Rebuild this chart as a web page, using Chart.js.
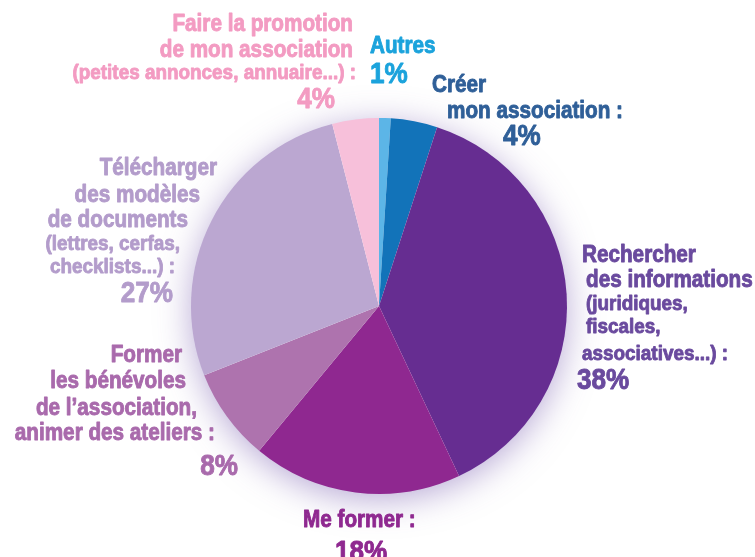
<!DOCTYPE html>
<html>
<head>
<meta charset="utf-8">
<script src="https://cdn.jsdelivr.net/npm/chart.js@4"></script>
<style>
  html, body { margin: 0; padding: 0; background: #fff; }
  #wrap { width: 755px; height: 557px; }
</style>
</head>
<body>
<div id="wrap"><canvas id="myChart" width="755" height="557"></canvas></div>
<script>
// data (percent of answers)
const categories = ['Autres', 'Créer mon association', 'Rechercher des informations', 'Me former',
  'Former les bénévoles', 'Télécharger des modèles', 'Faire la promotion'];
const shares = [1, 4, 38, 18, 8, 27, 4];
const sliceColors = ['#5cb5e7', '#1273b9', '#662d91', '#8f2890', '#ae73ae', '#bba7d1', '#f7c0da'];
const textColors = ['#1ba3dc', '#2f5f98', '#6a4a9e', '#8f2990', '#a96aac', '#b39ccb', '#f39bc2'];

// label text, one list of lines per slice (last line is the percentage)
const labelLines = [
  ['Autres', '1%'],
  ['Créer', 'mon association :', '4%'],
  ['Rechercher', 'des informations', '(juridiques,', 'fiscales,', 'associatives...) :', '38%'],
  ['Me former :', '18%'],
  ['Former', 'les bénévoles', 'de l’association,', 'animer des ateliers :', '8%'],
  ['Télécharger', 'des modèles', 'de documents', '(lettres, cerfas,', 'checklists...) :', '27%'],
  ['Faire la promotion', 'de mon association', '(petites annonces, annuaire...) :', '4%']
];

// where each line goes: [x, baseline, align, size]
const labelPlace = [
  [[370, 53, 'left', 23], [370, 83, 'left', 29]],
  [[432, 92, 'left', 23], [447, 118, 'left', 23], [503, 145, 'left', 29]],
  [[582, 262, 'left', 23], [586, 287, 'left', 23], [586, 310, 'left', 21], [586, 333, 'left', 21], [582, 360, 'left', 21], [577, 389, 'left', 29]],
  [[303, 527, 'left', 23], [335, 561, 'left', 29]],
  [[182, 362, 'right', 23], [186, 388, 'right', 23], [197, 415, 'right', 23], [215, 440, 'right', 23], [238, 475, 'right', 29]],
  [[217, 175, 'right', 23], [200, 202, 'right', 23], [188, 227, 'right', 23], [180, 250, 'right', 21], [175, 273, 'right', 21], [173, 302, 'right', 29]],
  [[353, 31, 'right', 23], [353, 57, 'right', 23], [356, 79, 'right', 21], [335, 108, 'right', 29]]
];

const squeeze = 0.9; // condensed look

function drawLine(ctx, text, x, y, align, size, color) {
  ctx.save();
  ctx.font = 'bold ' + size + 'px "Liberation Sans", Arial, sans-serif';
  ctx.fillStyle = color;
  ctx.strokeStyle = color;
  ctx.lineWidth = 0.9;
  ctx.lineJoin = 'round';
  ctx.textAlign = align;
  ctx.textBaseline = 'alphabetic';
  ctx.translate(x, y);
  ctx.scale(squeeze, 1);
  ctx.fillText(text, 0, 0);
  ctx.strokeText(text, 0, 0);
  ctx.restore();
}

const glowPlugin = {
  id: 'glow',
  beforeDatasetsDraw(chart) {
    const arc = chart.getDatasetMeta(0).data[0];
    if (!arc) return;
    const ctx = chart.ctx;
    ctx.save();
    ctx.shadowColor = 'rgba(110, 80, 170, 0.5)';
    ctx.shadowBlur = 34;
    ctx.shadowOffsetY = 6;
    ctx.fillStyle = '#ffffff';
    ctx.beginPath();
    ctx.arc(arc.x, arc.y, arc.outerRadius - 1, 0, Math.PI * 2);
    ctx.fill();
    ctx.restore();
  }
};

const labelPlugin = {
  id: 'sliceLabels',
  afterDraw(chart) {
    const ctx = chart.ctx;
    labelLines.forEach(function (lines, i) {
      lines.forEach(function (txt, j) {
        const p = labelPlace[i][j];
        drawLine(ctx, txt, p[0], p[1], p[2], p[3], textColors[i]);
      });
    });
  }
};

let myChart = document.getElementById('myChart').getContext('2d');
let chart = new Chart(myChart, {
  type: 'pie',
  data: {
    labels: categories,
    datasets: [{
      data: shares,
      backgroundColor: sliceColors,
      borderWidth: 0
    }]
  },
  options: {
    responsive: false,
    animation: false,
    layout: { padding: { top: 118, bottom: 63, left: 191, right: 188 } },
    plugins: {
      legend: { display: false },
      tooltip: { enabled: false }
    }
  },
  plugins: [glowPlugin, labelPlugin]
});
</script>
</body>
</html>
